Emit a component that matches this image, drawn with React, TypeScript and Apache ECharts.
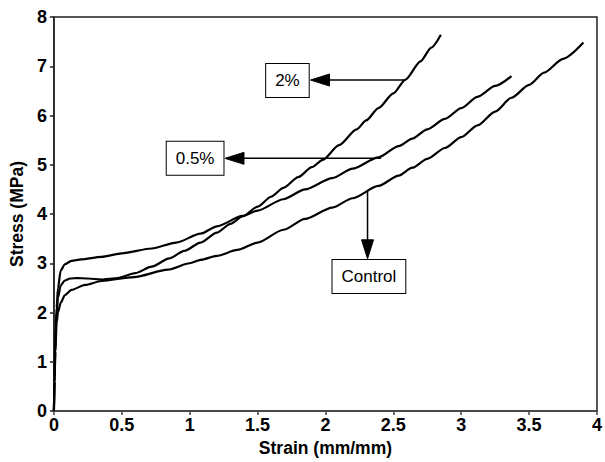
import React, { useEffect, useRef } from "react";
import * as echarts from "echarts";

// 2% curve
const strain2 = [0, 0.005, 0.01, 0.015, 0.02, 0.03, 0.05, 0.08, 0.12, 0.17, 0.25, 0.35, 0.47, 0.6, 0.72, 0.85, 0.96, 1.08, 1.2, 1.3, 1.39, 1.5, 1.6, 1.69, 1.8, 1.9, 1.98, 2.1, 2.23, 2.3, 2.39, 2.5, 2.59, 2.7, 2.78, 2.85];
const stress2 = [0, 0.6, 1.2, 1.7, 2.0, 2.3, 2.55, 2.65, 2.69, 2.7, 2.69, 2.67, 2.7, 2.8, 2.93, 3.1, 3.25, 3.42, 3.62, 3.8, 3.95, 4.15, 4.35, 4.53, 4.75, 4.95, 5.1, 5.4, 5.72, 5.9, 6.15, 6.45, 6.73, 7.1, 7.38, 7.64];

// 0.5% curve
const strain05 = [0, 0.005, 0.01, 0.02, 0.03, 0.05, 0.08, 0.13, 0.2, 0.35, 0.5, 0.72, 0.9, 1.08, 1.2, 1.39, 1.5, 1.69, 1.85, 2.05, 2.2, 2.39, 2.54, 2.64, 2.75, 2.88, 3.0, 3.12, 3.25, 3.37];
const stress05 = [0, 0.7, 1.4, 2.1, 2.5, 2.85, 2.98, 3.05, 3.08, 3.13, 3.2, 3.3, 3.42, 3.6, 3.75, 3.96, 4.07, 4.3, 4.5, 4.73, 4.92, 5.15, 5.38, 5.53, 5.72, 5.93, 6.15, 6.38, 6.6, 6.8];

// Control curve
const strainC = [0, 0.005, 0.01, 0.02, 0.03, 0.05, 0.08, 0.13, 0.23, 0.35, 0.59, 0.84, 1.0, 1.08, 1.2, 1.35, 1.5, 1.69, 1.85, 2.05, 2.2, 2.39, 2.54, 2.64, 2.75, 2.88, 3.0, 3.12, 3.25, 3.37, 3.5, 3.61, 3.75, 3.9];
const stressC = [0, 0.6, 1.2, 1.8, 2.0, 2.2, 2.35, 2.46, 2.56, 2.64, 2.72, 2.87, 3.0, 3.07, 3.15, 3.27, 3.42, 3.68, 3.9, 4.13, 4.32, 4.57, 4.78, 4.94, 5.12, 5.34, 5.56, 5.8, 6.08, 6.36, 6.62, 6.87, 7.15, 7.48];

// Annotations (data coordinates)
const annLabels = ["2%", "0.5%", "Control"];
const annBoxX = [1.72, 1.04, 2.32];
const annBoxY = [6.71, 5.13, 2.73];
const arrowFromX = [2.58, 2.41, 2.31];
const arrowFromY = [6.72, 5.13, 4.47];
const arrowToX = [1.89, 1.26, 2.31];
const arrowToY = [6.72, 5.13, 3.09];

const FONT = "'Liberation Sans', Arial, Helvetica, sans-serif";

function zip(xs: number[], ys: number[]) {
  return xs.map((x, i) => [x, ys[i]]);
}

export default function App() {
  const ref = useRef<HTMLDivElement>(null);

  useEffect(() => {
    document.body.style.margin = "0";
    if (!ref.current) return;
    const chart = echarts.init(ref.current, undefined, { renderer: "svg" });

    const annData = annLabels.map((_, i) => [
      arrowFromX[i], arrowFromY[i], arrowToX[i], arrowToY[i], annBoxX[i], annBoxY[i],
    ]);

    const lineSeries = (name: string, xs: number[], ys: number[]) => ({
      name,
      type: "line",
      data: zip(xs, ys),
      showSymbol: false,
      symbol: "none",
      smooth: 0.25,
      smoothMonotone: "x",
      lineStyle: { color: "#000", width: 2.2 },
      z: 3,
    });

    chart.setOption({
      animation: false,
      grid: {
        left: 52,
        right: 5,
        top: 17,
        bottom: 46,
        show: true,
        borderColor: "#222",
        borderWidth: 1.5,
        backgroundColor: "#fff",
      },
      xAxis: {
        type: "value",
        min: 0,
        max: 4,
        interval: 0.5,
        name: "Strain (mm/mm)",
        nameLocation: "middle",
        nameGap: 28,
        nameTextStyle: { fontFamily: FONT, fontWeight: "bold", fontSize: 17.5, color: "#000" },
        axisLine: { show: true, lineStyle: { color: "#444", width: 1.5 } },
        axisTick: { show: true, length: 4, lineStyle: { color: "#444", width: 1.5 } },
        axisLabel: { fontFamily: FONT, fontWeight: "bold", fontSize: 18, color: "#000", margin: 5 },
        splitLine: { show: false },
      },
      yAxis: {
        type: "value",
        min: 0,
        max: 8,
        interval: 1,
        name: "Stress (MPa)",
        nameLocation: "middle",
        nameGap: 24,
        nameTextStyle: { fontFamily: FONT, fontWeight: "bold", fontSize: 17.5, color: "#000" },
        axisLine: { show: true, lineStyle: { color: "#222", width: 1.5 } },
        axisTick: { show: true, length: 4, lineStyle: { color: "#222", width: 1.5 } },
        axisLabel: { fontFamily: FONT, fontWeight: "bold", fontSize: 18, color: "#000", margin: 7 },
        splitLine: { show: false },
      },
      series: [
        lineSeries("2%", strain2, stress2),
        lineSeries("0.5%", strain05, stress05),
        lineSeries("Control", strainC, stressC),
        {
          type: "custom",
          data: annData,
          clip: false,
          z: 5,
          encode: { x: [0, 2, 4], y: [1, 3, 5] },
          renderItem: (params: any, api: any) => {
            const i = params.dataIndex;
            const p0 = api.coord([api.value(0), api.value(1)]);
            const p1 = api.coord([api.value(2), api.value(3)]);
            const pb = api.coord([api.value(4), api.value(5)]);
            const dx = p1[0] - p0[0];
            const dy = p1[1] - p0[1];
            const len = Math.sqrt(dx * dx + dy * dy) || 1;
            const ux = dx / len;
            const uy = dy / len;
            const headLen = 19;
            const headHalf = 6;
            const base = [p1[0] - ux * headLen, p1[1] - uy * headLen];
            const nx = -uy;
            const ny = ux;
            return {
              type: "group",
              children: [
                {
                  type: "line",
                  shape: { x1: p0[0], y1: p0[1], x2: base[0], y2: base[1] },
                  style: { stroke: "#000", lineWidth: 1.5 },
                },
                {
                  type: "polygon",
                  shape: {
                    points: [
                      [p1[0], p1[1]],
                      [base[0] + nx * headHalf, base[1] + ny * headHalf],
                      [base[0] - nx * headHalf, base[1] - ny * headHalf],
                    ],
                  },
                  style: { fill: "#000", stroke: "#000", lineWidth: 1 },
                },
                {
                  type: "text",
                  x: pb[0],
                  y: pb[1],
                  style: {
                    text: annLabels[i],
                    fontFamily: FONT,
                    fontSize: 17,
                    fill: "#000",
                    align: "center",
                    verticalAlign: "middle",
                    lineHeight: 17,
                    backgroundColor: "#fff",
                    borderColor: "#000",
                    borderWidth: 1,
                    padding: [8, 9],
                  },
                },
              ],
            };
          },
        },
      ],
    });

    return () => {
      chart.dispose();
    };
  }, []);

  return <div ref={ref} style={{ width: 605, height: 462 }} />;
}
